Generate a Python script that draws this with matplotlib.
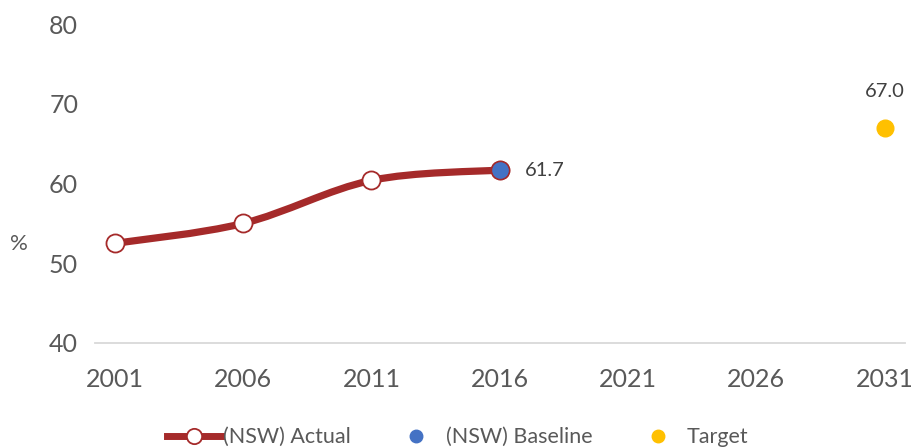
import numpy as np
import matplotlib
matplotlib.use("Agg")
import matplotlib.pyplot as plt
from matplotlib.path import Path
from matplotlib.patches import PathPatch
from matplotlib.lines import Line2D

# ==========================
# data
# ==========================
actual_years = [2001, 2006, 2011, 2016]
actual_values = [52.5, 55.0, 60.4, 61.7]
baseline_year = [2016]
baseline_value = [61.7]
target_year = [2031]
target_value = [67.0]
x_ticks = [2001, 2006, 2011, 2016, 2021, 2026, 2031]
y_ticks = [40, 50, 60, 70, 80]

RED = "#A52A2A"
BLUE = "#4472C4"
GOLD = "#FFC000"
GREY = "#595959"

plt.rcParams["font.family"] = ["Lato", "DejaVu Sans"]

fig = plt.figure(figsize=(9.12, 4.47), dpi=100)
ax = fig.add_axes([0.104, 0.2327, 0.888, 0.7133])

ax.set_xlim(2000.22, 2031.78)
ax.set_ylim(40, 80)


def smooth_path(xs, ys):
    # excel style smoothed line, bezier segments
    pts = np.column_stack([xs, ys]).astype(float)
    n = len(pts)
    verts = [pts[0]]
    codes = [Path.MOVETO]
    for i in range(n - 1):
        p0 = pts[max(i - 1, 0)]
        p1 = pts[i]
        p2 = pts[i + 1]
        p3 = pts[min(i + 2, n - 1)]
        c1 = p1 + (p2 - p0) / 6.0
        c2 = p2 - (p3 - p1) / 6.0
        verts += [c1, c2, p2]
        codes += [Path.CURVE4] * 3
    return Path(verts, codes)


ax.add_patch(PathPatch(smooth_path(actual_years, actual_values),
                       facecolor="none", edgecolor=RED, lw=5.2,
                       capstyle="round", zorder=2))
ax.plot(actual_years, actual_values, ls="none", marker="o", ms=13,
        mfc="white", mec=RED, mew=1.3, zorder=3)

ax.plot(baseline_year, baseline_value, ls="none", marker="o", ms=13,
        mfc=BLUE, mec=RED, mew=1.0, zorder=4)
ax.plot(target_year, target_value, ls="none", marker="o", ms=12,
        mfc=GOLD, mec=GOLD, zorder=4)

ax.annotate(f"{baseline_value[0]:.1f}", (baseline_year[0], baseline_value[0]),
            xytext=(18, 0), textcoords="offset points", ha="left",
            va="center", fontsize=14.5, color="#404040")
ax.annotate(f"{target_value[0]:.1f}", (target_year[0], target_value[0]),
            xytext=(0, 20), textcoords="offset points", ha="center",
            va="bottom", fontsize=14.5, color="#404040")

ax.set_xticks(x_ticks)
ax.set_yticks(y_ticks)
ax.tick_params(length=0, labelsize=18, colors=GREY)
ax.tick_params(axis="x", pad=18)
ax.tick_params(axis="y", pad=12)
for s in ["top", "right", "left"]:
    ax.spines[s].set_visible(False)
ax.spines["bottom"].set_color("#D9D9D9")
ax.spines["bottom"].set_linewidth(1.3)

ax.set_ylabel("%", rotation=0, fontsize=16, color=GREY, va="center",
              ha="center")
ax.yaxis.set_label_coords(-0.094, 0.31)

handles = [
    Line2D([], [], color=RED, lw=5, marker="o", ms=11, mfc="white",
           mec=RED, mew=1.3),
    Line2D([], [], ls="none", marker="o", ms=9, color=BLUE),
    Line2D([], [], ls="none", marker="o", ms=9, color=GOLD),
]
fig.legend(handles, ["(NSW) Actual", "(NSW) Baseline", "Target"],
           loc="center", bbox_to_anchor=(0.502, 0.022), ncol=3,
           frameon=False, fontsize=15.5, labelcolor=GREY, handlelength=2.5,
           handletextpad=0.1, columnspacing=1.8)

fig.savefig("out.png", dpi=100)
